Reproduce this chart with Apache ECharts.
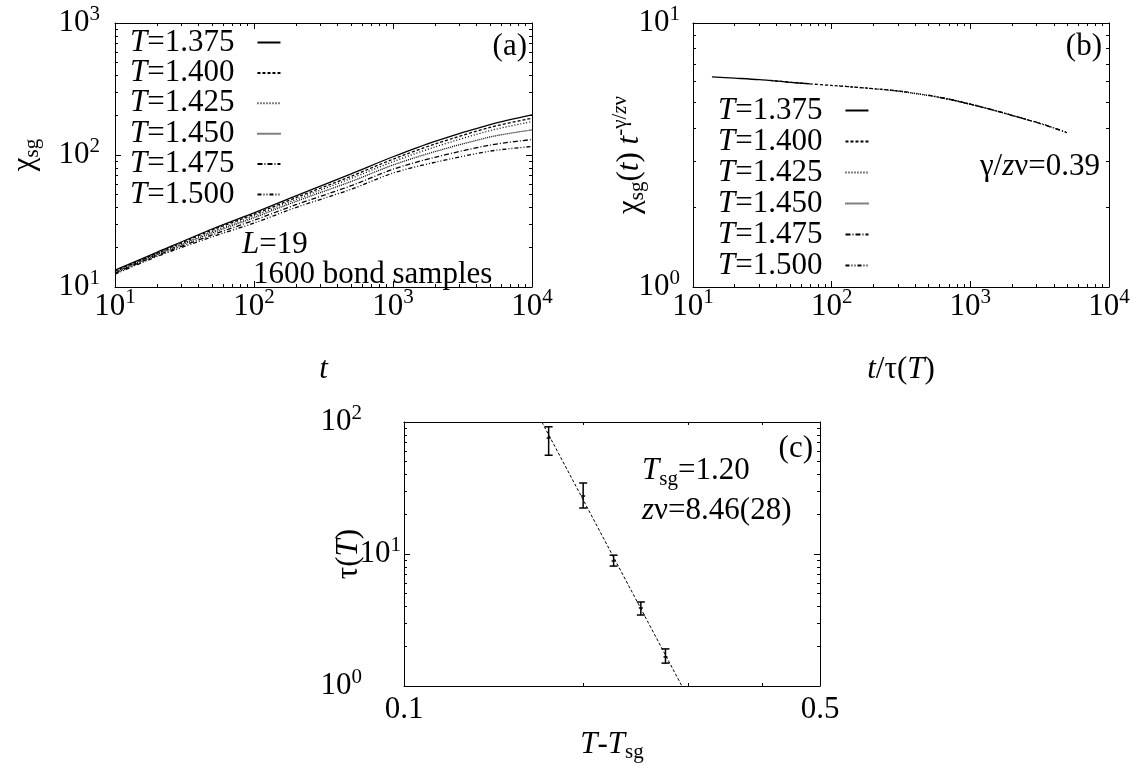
<!DOCTYPE html>
<html><head><meta charset="utf-8">
<script src="https://cdn.jsdelivr.net/npm/echarts@6/dist/echarts.min.js"></script>
<style>html,body{margin:0;padding:0;background:#fff}#c{width:1136px;height:777px}</style>
</head><body><div id="c"></div><script>
// ---------- data ----------
const temps = ['1.375', '1.400', '1.425', '1.450', '1.475', '1.500'];
const dashes = ['solid', [3, 2], [1, 2], [1, 1], [5, 2, 1, 2], [4, 2, 1, 2, 1, 2]];

// panel (a): chi_sg(t)
const tA = [10, 20, 50, 100, 200, 500, 1000, 2000, 5000, 10000];
const chi1375 = [13.4, 18.3, 27.5, 36.5, 49, 72, 97, 127, 170, 201];
const chi1400 = [13.2, 18.0, 27.0, 35.5, 47.5, 69, 93, 121, 162, 190];
const chi1425 = [13.0, 17.8, 26.3, 34.5, 46, 66.5, 89, 115, 153, 179];
const chi1450 = [12.9, 17.6, 25.7, 33.5, 44.5, 63, 84, 106, 137, 155];
const chi1475 = [12.7, 17.3, 24.8, 32, 42, 58.5, 78, 96, 119, 131];
const chi1500 = [12.5, 17.0, 24.0, 30.5, 40, 55, 73, 88, 107, 116];
const chiA = [chi1375, chi1400, chi1425, chi1450, chi1475, chi1500];

// panel (b): scaled chi vs t/tau
const bT1375 = [13.7, 20, 30, 50, 70];
const bY1375 = [6.25, 6.18, 6.10, 5.96, 5.88];
const bT1400 = [36, 50, 70, 100, 150, 200, 300, 360];
const bY1400 = [6.06, 5.97, 5.88, 5.80, 5.71, 5.64, 5.53, 5.47];
const bT1425 = [113, 150, 200, 300, 500, 700, 1000, 1130];
const bY1425 = [5.78, 5.71, 5.64, 5.53, 5.32, 5.15, 4.93, 4.86];
const bT1450 = [256, 300, 500, 700, 1000, 1500, 2000, 2560];
const bY1450 = [5.57, 5.52, 5.31, 5.14, 4.92, 4.66, 4.47, 4.31];
const bT1475 = [600, 700, 1000, 1500, 2000, 3000, 4000, 4980];
const bY1475 = [5.23, 5.15, 4.93, 4.66, 4.47, 4.20, 4.00, 3.84];
const bT1500 = [500, 700, 1000, 1500, 2000, 3000, 4000, 4900];
const bY1500 = [5.33, 5.14, 4.92, 4.67, 4.46, 4.21, 4.01, 3.86];
const bTs = [bT1375, bT1400, bT1425, bT1450, bT1475, bT1500];
const bYs = [bY1375, bY1400, bY1425, bY1450, bY1475, bY1500];

// panel (c): tau(T) vs T - Tsg
const cX = [0.175, 0.2, 0.225, 0.25, 0.275];
const cTau = [75.7, 27.5, 8.85, 3.9, 1.66];
const cLo = [56, 22.3, 8.1, 3.45, 1.49];
const cHi = [92, 34.5, 9.8, 4.33, 1.91];
const fitX = [0.1705, 0.293];
const fitY = [100, 1];

// ticks
const decadesT = [10, 100, 1000, 10000];
const minorT = [20,30,40,50,60,70,80,90,200,300,400,500,600,700,800,900,2000,3000,4000,5000,6000,7000,8000,9000];
const decadesChi = [10, 100, 1000];
const minorChi = [20,30,40,50,60,70,80,90,200,300,400,500,600,700,800,900];
const decadesB = [1, 10];
const minorB = [2,3,4,5,6,7,8,9];
const decadesTau = [1, 10, 100];
const labelsTauOuter = [1, 100];
const labelsTauInner = [10];
const minorTau = [2,3,4,5,6,7,8,9,20,30,40,50,60,70,80,90];
const labelsCx = [0.1, 0.5];
const minorCx = [0.2, 0.3, 0.4];

// ---------- styling ----------
const F = 'Liberation Serif';
const FS = 31, SS = 21;
const rich = {
  n: {fontFamily: F, fontSize: FS, color: '#000', verticalAlign: 'middle'},
  i: {fontFamily: F, fontSize: FS, color: '#000', fontStyle: 'italic', verticalAlign: 'middle'},
  b: {fontFamily: F, fontSize: FS, color: '#000', verticalAlign: 'middle'},
  s: {fontFamily: F, fontSize: SS, color: '#000', padding: [0, 0, 18, 0], verticalAlign: 'middle'},
  si: {fontFamily: F, fontSize: SS, color: '#000', fontStyle: 'italic', padding: [0, 0, 18, 0], verticalAlign: 'middle'},
  u: {fontFamily: F, fontSize: SS, color: '#000', padding: [16, 0, 0, 0], verticalAlign: 'middle'},
  g: {width: 18}
};
const pow10 = v => '{b|10}{s|' + Math.round(Math.log10(v)) + '}';
const plain = v => '{b|' + v + '}';

const grids = [
  {left: 115, top: 23, width: 417, height: 264},
  {left: 693, top: 23, width: 416, height: 264},
  {left: 404, top: 422, width: 416, height: 264}
];

const xAxes = [], yAxes = [];
const line = {show: true, lineStyle: {color: '#000', width: 1}};
function axisSet(list, gi, isX, r) {
  const posMain = isX ? 'bottom' : 'left', posOpp = isX ? 'top' : 'right';
  const common = {type: 'log', gridIndex: gi, min: r.min, max: r.max, splitLine: {show: false}, minorTick: {show: false}, minorSplitLine: {show: false}};
  const idx = list.length;
  list.push(Object.assign({}, common, {
    position: posMain, axisLine: line,
    axisTick: {show: true, inside: true, length: 6, customValues: r.major, lineStyle: {color: '#000'}},
    axisLabel: {show: true, customValues: r.labels, formatter: r.fmt, margin: r.margin, rich: rich},
    name: r.name, nameLocation: 'middle', nameGap: r.nameGap, nameMoveOverlap: false, nameTextStyle: {rich: rich}
  }));
  list.push(Object.assign({}, common, {
    position: posOpp, axisLine: line,
    axisTick: {show: true, inside: true, length: 6, customValues: r.major, lineStyle: {color: '#000'}},
    axisLabel: {show: false}
  }));
  [posMain, posOpp].forEach(p => list.push(Object.assign({}, common, {
    position: p, axisLine: {show: false},
    axisTick: {show: true, inside: true, length: 3, customValues: r.minor, lineStyle: {color: '#000'}},
    axisLabel: {show: false}
  })));
  if (r.extraLabels) {
    list.push(Object.assign({}, common, {
      position: posMain, axisLine: {show: false}, axisTick: {show: false},
      axisLabel: {show: true, customValues: r.extraLabels, formatter: r.fmt, margin: r.extraMargin, rich: rich}
    }));
  }
  return idx;
}

const ax = [];
ax.push([
  axisSet(xAxes, 0, true, {min: 10, max: 10000, major: decadesT, minor: minorT, labels: decadesT, fmt: pow10, margin: 0, name: '{i|t}', nameGap: 67}),
  axisSet(yAxes, 0, false, {min: 10, max: 1000, major: decadesChi, minor: minorChi, labels: decadesChi, fmt: pow10, margin: 15, name: '{n|χ}{u|sg}', nameGap: 72})
]);
ax.push([
  axisSet(xAxes, 1, true, {min: 10, max: 10000, major: decadesT, minor: minorT, labels: decadesT, fmt: pow10, margin: 0, name: '{i|t}{n|/τ(}{i|T}{n|)}', nameGap: 67}),
  axisSet(yAxes, 1, false, {min: 1, max: 10, major: decadesB, minor: minorB, labels: decadesB, fmt: pow10, margin: 13, name: '{n|χ}{u|sg}{n|(}{i|t}{n|) }{i|t}{s|-γ/}{si|z}{s|ν}', nameGap: 44})
]);
ax.push([
  axisSet(xAxes, 2, true, {min: 0.1, max: 0.5, major: [], minor: minorCx, labels: labelsCx, fmt: plain, margin: 8, name: '{i|T}{n|-}{i|T}{u|sg}', nameGap: 40}),
  axisSet(yAxes, 2, false, {min: 1, max: 100, major: decadesTau, minor: minorTau, labels: labelsTauOuter, fmt: pow10, margin: 42, name: '{n|τ(}{i|T}{n|)}', nameGap: 40, extraLabels: labelsTauInner, extraMargin: 3})
]);

const series = [];
temps.forEach((T, k) => {
  series.push({
    name: 'T=' + T, type: 'line', xAxisIndex: ax[0][0], yAxisIndex: ax[0][1],
    showSymbol: false, symbol: 'none', smooth: 0.3, z: 3,
    lineStyle: {color: '#000', width: 1.3, type: dashes[k]},
    data: tA.map((t, j) => [t, chiA[k][j]])
  });
});
temps.forEach((T, k) => {
  series.push({
    name: 'T=' + T, type: 'line', xAxisIndex: ax[1][0], yAxisIndex: ax[1][1],
    showSymbol: false, symbol: 'none', smooth: 0.3, z: 3,
    lineStyle: {color: '#000', width: 1.3, type: dashes[k]},
    data: bTs[k].map((t, j) => [t, bYs[k][j]])
  });
});
series.push({
  name: 'fit', type: 'line', xAxisIndex: ax[2][0], yAxisIndex: ax[2][1],
  showSymbol: false, symbol: 'none', clip: true,
  lineStyle: {color: '#000', width: 1, type: [3, 2]},
  data: fitX.map((x, j) => [x, fitY[j]])
});
series.push({
  name: 'tau', type: 'custom', xAxisIndex: ax[2][0], yAxisIndex: ax[2][1], z: 4,
  data: cX.map((x, j) => [x, cTau[j], cLo[j], cHi[j]]),
  renderItem: function (params, api) {
    const x = api.value(0);
    const pc = api.coord([x, api.value(1)]);
    const pl = api.coord([x, api.value(2)]);
    const ph = api.coord([x, api.value(3)]);
    const cap = 4, st = {stroke: '#000', lineWidth: 1.5};
    return {type: 'group', children: [
      {type: 'line', shape: {x1: pl[0], y1: pl[1], x2: ph[0], y2: ph[1]}, style: st},
      {type: 'line', shape: {x1: pl[0] - cap, y1: pl[1], x2: pl[0] + cap, y2: pl[1]}, style: st},
      {type: 'line', shape: {x1: ph[0] - cap, y1: ph[1], x2: ph[0] + cap, y2: ph[1]}, style: st},
      {type: 'line', shape: {x1: pc[0] - 2, y1: pc[1], x2: pc[0] + 2, y2: pc[1]}, style: st}
    ]};
  }
});

const legendNames = temps.map(T => 'T=' + T);
const legendFmt = name => '{i|T}{n|=' + name.slice(2) + '}{g|}';
function legend(left, top, gap) {
  return {
    left: left, top: top, orient: 'vertical', align: 'right', padding: 0,
    itemWidth: 23, itemHeight: 10, itemGap: gap, selectedMode: false,
    data: legendNames, formatter: legendFmt,
    textStyle: {rich: rich, fontFamily: F, fontSize: FS},
    itemStyle: {opacity: 0}
  };
}

function txt(x, y, text, align) {
  return {type: 'text', x: x, y: y, z: 10, style: {text: text, rich: rich, fontFamily: F, fontSize: FS, fill: '#000', align: align || 'left', verticalAlign: 'middle'}};
}

const option = {
  animation: false,
  backgroundColor: '#fff',
  grid: grids,
  xAxis: xAxes,
  yAxis: yAxes,
  legend: [legend(130, 27, -0.6), legend(718, 95, 0)],
  series: series,
  graphic: [
    txt(527, 47, '{n|(a)}', 'right'),
    txt(1102, 47, '{n|(b)}', 'right'),
    txt(813, 449, '{n|(c)}', 'right'),
    txt(242, 245, '{i|L}{n|=19}'),
    txt(253, 275, '{n|1600 bond samples}'),
    txt(1100, 167, '{n|γ/}{i|z}{n|ν=0.39}', 'right'),
    txt(642, 471, '{i|T}{u|sg}{n|=1.20}'),
    txt(642, 511, '{i|z}{n|ν=8.46(28)}')
  ]
};
const chart = echarts.init(document.getElementById('c'));
chart.setOption(option);
</script></body></html>
